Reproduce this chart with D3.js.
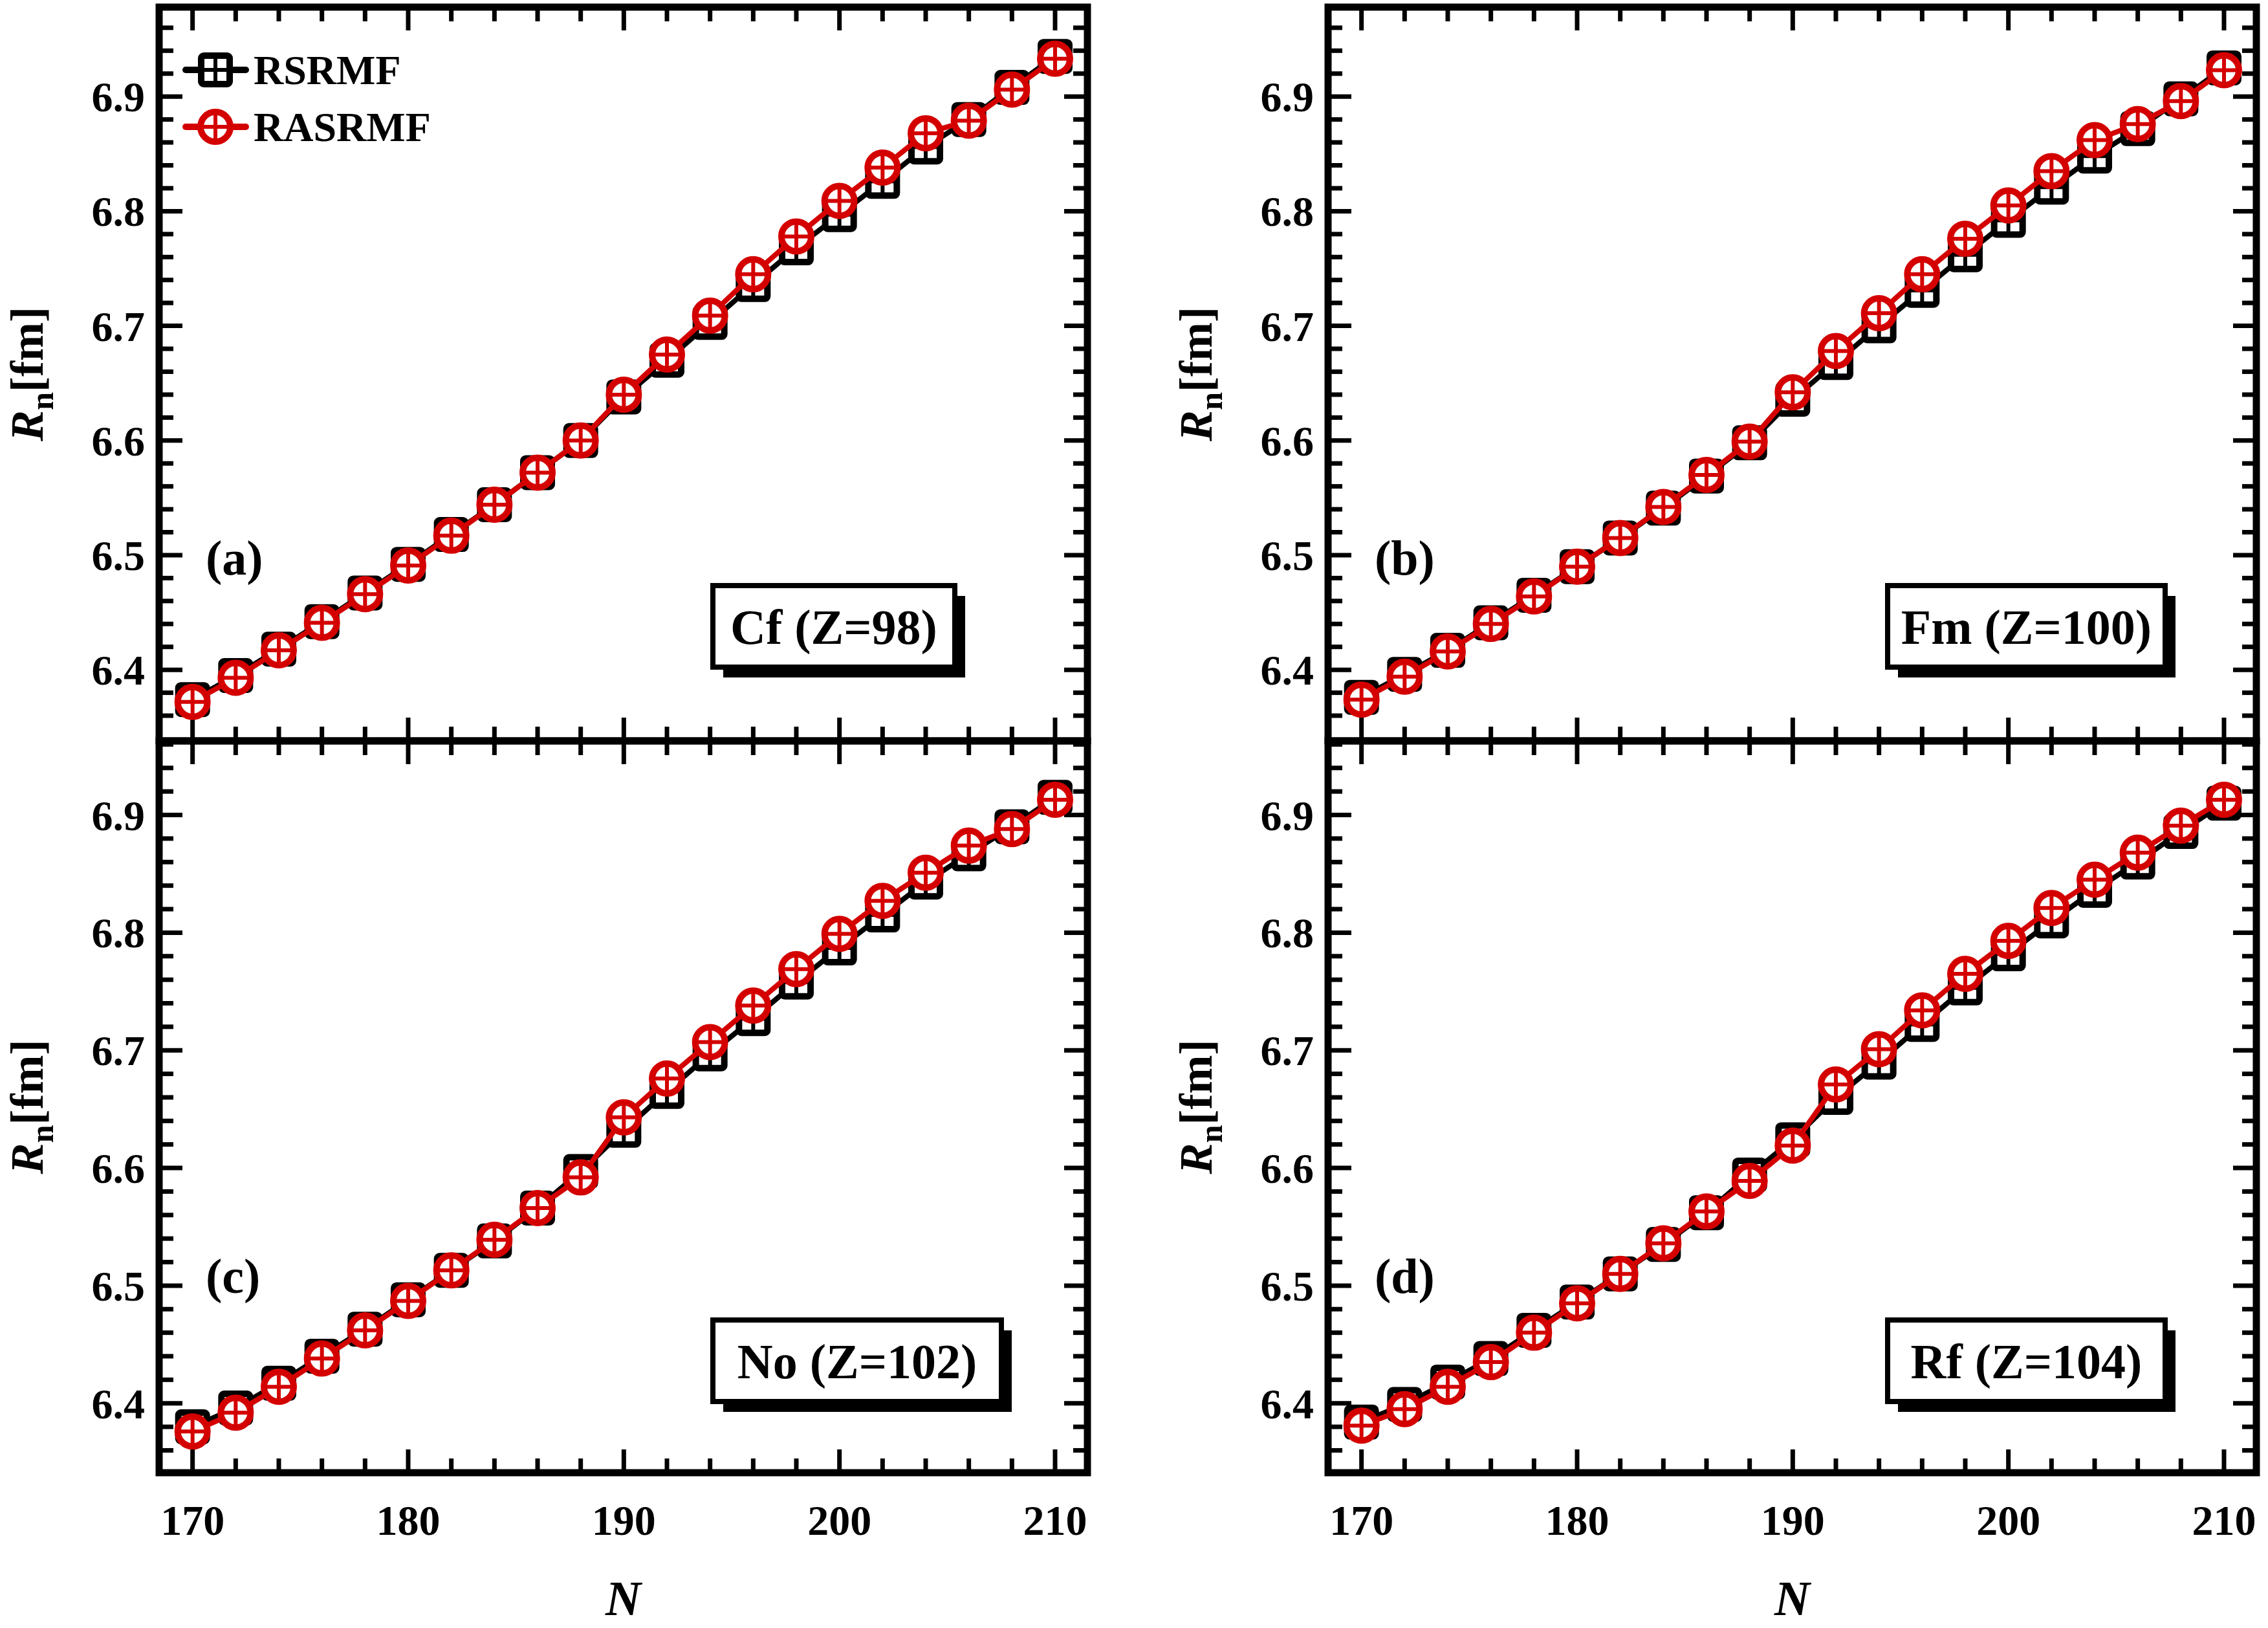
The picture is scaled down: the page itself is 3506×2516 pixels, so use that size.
<!DOCTYPE html>
<html><head><meta charset="utf-8">
<script src="https://cdn.jsdelivr.net/npm/d3@7"></script>
<style>body{margin:0;background:#fff}</style></head>
<body><svg id="c" width="3506" height="2516"></svg>
<script>
const N = [170,172,174,176,178,180,182,184,186,188,190,192,194,196,198,200,202,204,206,208,210];
const xTicks = [170,180,190,200,210];
const yTicks = [6.4,6.5,6.6,6.7,6.8,6.9];
const panelLabels = ["(a)","(b)","(c)","(d)"];
const elementLabels = ["Cf (Z=98)","Fm (Z=100)","No (Z=102)","Rf (Z=104)"];
const seriesNames = ["RSRMF","RASRMF"];
const rsrmfA = [6.374,6.395,6.418,6.442,6.467,6.492,6.518,6.544,6.572,6.600,6.638,6.670,6.703,6.736,6.768,6.797,6.826,6.856,6.880,6.908,6.935];
const rasrmfA = [6.372,6.393,6.417,6.441,6.466,6.491,6.517,6.544,6.572,6.600,6.640,6.675,6.709,6.745,6.778,6.809,6.838,6.868,6.879,6.906,6.933];
const rsrmfB = [6.376,6.396,6.417,6.441,6.465,6.490,6.515,6.541,6.569,6.598,6.636,6.668,6.700,6.731,6.762,6.792,6.821,6.848,6.872,6.898,6.925];
const rasrmfB = [6.374,6.394,6.416,6.440,6.464,6.490,6.515,6.542,6.570,6.599,6.642,6.678,6.711,6.745,6.776,6.805,6.835,6.862,6.876,6.896,6.923];
const rsrmfC = [6.380,6.396,6.417,6.440,6.463,6.488,6.513,6.538,6.566,6.597,6.632,6.665,6.697,6.727,6.758,6.787,6.815,6.843,6.867,6.890,6.915];
const rasrmfC = [6.376,6.392,6.414,6.438,6.462,6.487,6.513,6.539,6.566,6.592,6.643,6.676,6.707,6.738,6.769,6.799,6.827,6.851,6.874,6.888,6.913];
const rsrmfD = [6.384,6.399,6.418,6.438,6.462,6.486,6.510,6.535,6.562,6.594,6.624,6.660,6.690,6.722,6.753,6.782,6.810,6.836,6.860,6.886,6.910];
const rasrmfD = [6.381,6.395,6.414,6.435,6.460,6.485,6.510,6.536,6.563,6.589,6.619,6.671,6.701,6.734,6.765,6.793,6.821,6.845,6.868,6.891,6.913];
const panelsData = [[rsrmfA,rasrmfA],[rsrmfB,rasrmfB],[rsrmfC,rasrmfC],[rsrmfD,rasrmfD]];

const svg = d3.select("#c");
const FONT = "'Liberation Serif','Times New Roman',serif";
const RED = "#d40000";
const pos = [
  {x0:246,x1:1681,y0:11,y1:1145},
  {x0:2053,x1:3488,y0:11,y1:1145},
  {x0:246,x1:1681,y0:1145,y1:2276},
  {x0:2053,x1:3488,y0:1145,y1:2276}];
const boxes = [[1102,1476],[2918,3347],[1102,1548],[2918,3347]];

pos.forEach((p,i)=>{
  const x = d3.scaleLinear().domain([168.45,211.5]).range([p.x0,p.x1]);
  const y = d3.scaleLinear().domain(i<2?[6.338,6.978]:[6.341,6.963]).range([p.y1,p.y0]);
  const g = svg.append("g");
  const minorX = d3.range(170,211,2), minorY = d3.range(6.34,6.97,0.02);
  minorX.forEach(v=>{
    const L = (v%10===0)?36:22;
    g.append("line").attr("x1",x(v)).attr("x2",x(v)).attr("y1",p.y1).attr("y2",p.y1-L).attr("stroke","#000").attr("stroke-width",7);
    g.append("line").attr("x1",x(v)).attr("x2",x(v)).attr("y1",p.y0).attr("y2",p.y0+L).attr("stroke","#000").attr("stroke-width",7);
  });
  minorY.forEach(v=>{
    if(y(v)<p.y0+4||y(v)>p.y1-4) return;
    const maj = Math.abs(Math.round(v*10)-v*10)<1e-6;
    const L = maj?36:22;
    g.append("line").attr("y1",y(v)).attr("y2",y(v)).attr("x1",p.x0).attr("x2",p.x0+L).attr("stroke","#000").attr("stroke-width",7);
    g.append("line").attr("y1",y(v)).attr("y2",y(v)).attr("x1",p.x1).attr("x2",p.x1-L).attr("stroke","#000").attr("stroke-width",7);
  });
  yTicks.forEach(v=>g.append("text").attr("x",p.x0-22).attr("y",y(v)).attr("dy","0.35em").attr("text-anchor","end")
    .attr("font-family",FONT).attr("font-weight","bold").attr("font-size",66).text(v.toFixed(1)));
  if(i>=2) xTicks.forEach(v=>g.append("text").attr("x",x(v)).attr("y",2372).attr("text-anchor","middle")
    .attr("font-family",FONT).attr("font-weight","bold").attr("font-size",66).text(v));
  const yl = g.append("text").attr("transform",`translate(${p.x0-180},${(p.y0+p.y1)/2}) rotate(-90)`).attr("text-anchor","middle")
    .attr("font-family",FONT).attr("font-weight","bold").attr("font-size",72);
  yl.append("tspan").attr("font-style","italic").text("R");
  yl.append("tspan").attr("font-size",50).attr("dy",16).text("n");
  yl.append("tspan").attr("dy",-16).text("[fm]");
  if(i>=2) g.append("text").attr("x",(p.x0+p.x1)/2).attr("y",2496).attr("text-anchor","middle")
    .attr("font-family",FONT).attr("font-weight","bold").attr("font-style","italic").attr("font-size",76).text("N");
  const [blk, red] = panelsData[i];
  const line = d3.line().x((d,j)=>x(N[j])).y(d=>y(d));
  g.append("path").datum(blk).attr("d",line).attr("fill","none").attr("stroke","#000").attr("stroke-width",8);
  blk.forEach((d,j)=>drawSquare(g,x(N[j]),y(d)));
  g.append("path").datum(red).attr("d",line).attr("fill","none").attr("stroke",RED).attr("stroke-width",8);
  red.forEach((d,j)=>drawCircle(g,x(N[j]),y(d)));
  g.append("rect").attr("x",p.x0).attr("y",p.y0).attr("width",p.x1-p.x0).attr("height",p.y1-p.y0).attr("fill","none").attr("stroke","#000").attr("stroke-width",11);
  g.append("text").attr("x",p.x0+72).attr("y",i<2?888:1998).attr("font-family",FONT).attr("font-weight","bold").attr("font-size",76).text(panelLabels[i]);
  const [bx0,bx1] = boxes[i];
  const by0 = i<2?905:2040, by1 = by0+126;
  g.append("rect").attr("x",bx0+16).attr("y",bx0?by0+16:0).attr("width",bx1-bx0).attr("height",by1-by0).attr("fill","#000");
  g.append("rect").attr("x",bx0).attr("y",by0).attr("width",bx1-bx0).attr("height",by1-by0).attr("fill","#fff").attr("stroke","#000").attr("stroke-width",8);
  g.append("text").attr("x",(bx0+bx1)/2).attr("y",(by0+by1)/2).attr("dy","0.35em").attr("text-anchor","middle")
    .attr("font-family",FONT).attr("font-weight","bold").attr("font-size",76).text(elementLabels[i]);
});

function drawSquare(g,cx,cy){
  const s=44;
  g.append("rect").attr("x",cx-s/2).attr("y",cy-s/2).attr("width",s).attr("height",s).attr("rx",4).attr("fill","#fff").attr("stroke","#000").attr("stroke-width",10);
  g.append("line").attr("x1",cx).attr("x2",cx).attr("y1",cy-s/2).attr("y2",cy+s/2).attr("stroke","#000").attr("stroke-width",6);
  g.append("line").attr("x1",cx-s/2).attr("x2",cx+s/2).attr("y1",cy).attr("y2",cy).attr("stroke","#000").attr("stroke-width",6);
}
function drawCircle(g,cx,cy){
  const r=23;
  g.append("circle").attr("cx",cx).attr("cy",cy).attr("r",r).attr("fill","#fff").attr("stroke",RED).attr("stroke-width",10);
  g.append("line").attr("x1",cx).attr("x2",cx).attr("y1",cy-r).attr("y2",cy+r).attr("stroke",RED).attr("stroke-width",6);
  g.append("line").attr("x1",cx-r).attr("x2",cx+r).attr("y1",cy).attr("y2",cy).attr("stroke",RED).attr("stroke-width",6);
}
const lg = svg.append("g");
[["#000",drawSquare],[RED,drawCircle]].forEach(([c,f],k)=>{
  const ly = 108 + k*88;
  lg.append("line").attr("x1",287).attr("x2",380).attr("y1",ly).attr("y2",ly).attr("stroke",c).attr("stroke-width",10).attr("stroke-linecap","round");
  f(lg,333,ly);
  lg.append("text").attr("x",392).attr("y",ly).attr("dy","0.35em").attr("font-family",FONT).attr("font-weight","bold").attr("font-size",64).text(seriesNames[k]);
});
</script></body></html>
